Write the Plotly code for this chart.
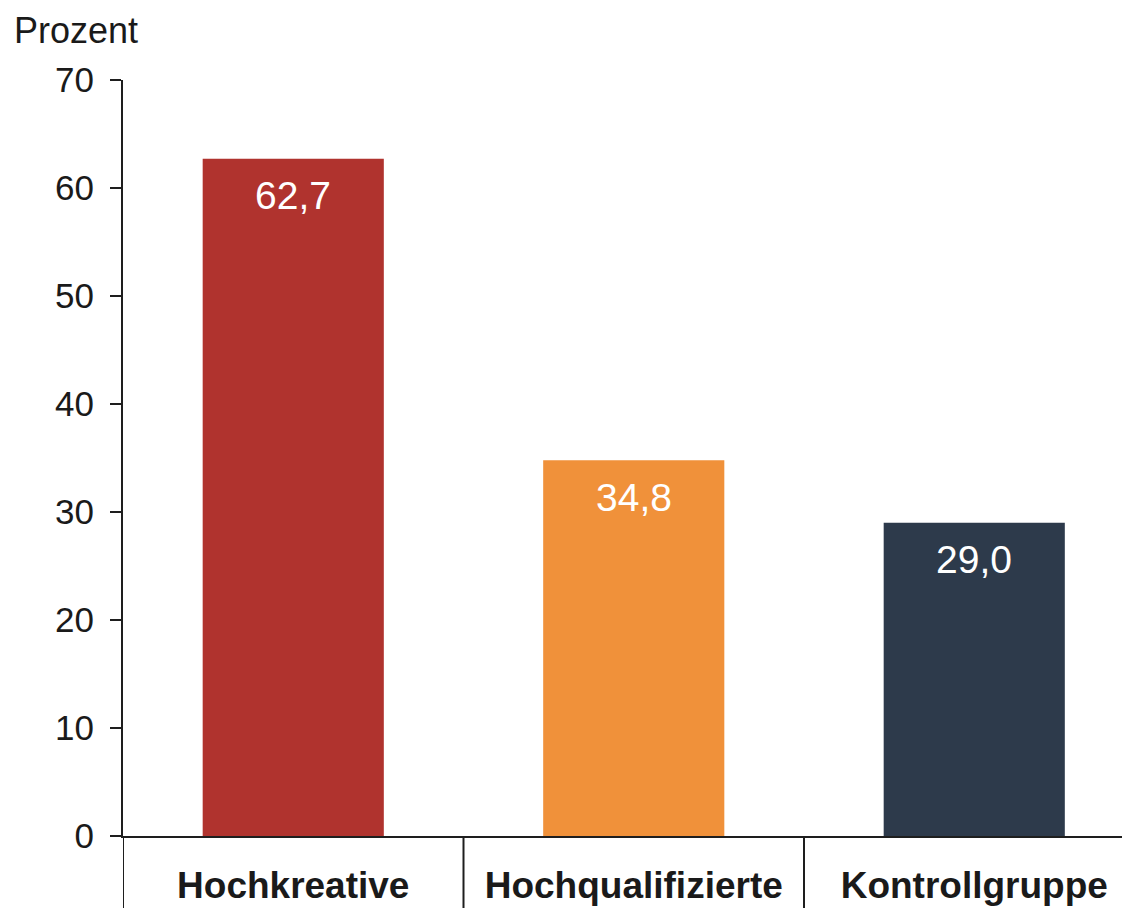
import plotly.graph_objects as go

categories = ["Hochkreative", "Hochqualifizierte", "Kontrollgruppe"]
values = [62.7, 34.8, 29.0]
value_labels = ["62,7", "34,8", "29,0"]
colors = ["#B0332E", "#F0913A", "#2D3A4B"]
y_ticks = [0, 10, 20, 30, 40, 50, 60, 70]

# the page body adds an 8px offset, so the figure is 8px smaller in each direction
W, H = 1122, 900
L, R, T, B = 115, 0, 72, 72
plot_w = W - L - R
plot_h = H - T - B
cat_px = 340.5
x_max = -0.5 + plot_w / cat_px

axis_color = "#1e1e1e"
text_color = "#1a1a1a"
font_family = "Liberation Sans, Arial, sans-serif"

fig = go.Figure()
fig.add_trace(go.Bar(
    x=list(range(len(categories))),
    y=values,
    marker=dict(color=colors, line=dict(width=0)),
    width=0.532,
    hoverinfo="skip",
))

for i, (v, lab) in enumerate(zip(values, value_labels)):
    fig.add_annotation(x=i, y=v, xref="x", yref="y", text=lab, showarrow=False,
                       yanchor="middle", yshift=-37,
                       font=dict(family=font_family, size=39, color="white"))

# separators below the axis
for b in [-0.5, 0.5, 1.5]:
    fig.add_shape(type="line", xref="x", yref="paper", x0=b, x1=b, y0=0, y1=-(B + 10) / plot_h,
                  line=dict(color=axis_color, width=2))

fig.add_annotation(xref="paper", yref="paper", x=(4 - L) / plot_w, y=1 + T / plot_h,
                   xanchor="left", yanchor="top", text="Prozent", showarrow=False,
                   font=dict(family=font_family, size=36, color=text_color))

fig.update_layout(
    width=W, height=H,
    margin=dict(l=L, r=R, t=T, b=B, pad=0),
    paper_bgcolor="white", plot_bgcolor="white",
    showlegend=False,
    font=dict(family=font_family, color=text_color),
    xaxis=dict(
        range=[-0.5, x_max],
        tickmode="array", tickvals=list(range(len(categories))), ticktext=categories,
        tickfont=dict(family=font_family, size=37, color=text_color, weight="bold"),
        showline=True, linecolor=axis_color, linewidth=2,
        ticks="", showgrid=False, zeroline=False,
        ticklabelstandoff=16, automargin=False,
    ),
    yaxis=dict(
        range=[0, 70],
        tickmode="array", tickvals=y_ticks,
        tickfont=dict(family=font_family, size=35, color=text_color),
        showline=True, linecolor=axis_color, linewidth=2,
        ticks="outside", ticklen=11, tickwidth=2, tickcolor=axis_color,
        showgrid=False, zeroline=False,
        ticklabelstandoff=9, automargin=False,
    ),
)

fig.write_html("out.html")
